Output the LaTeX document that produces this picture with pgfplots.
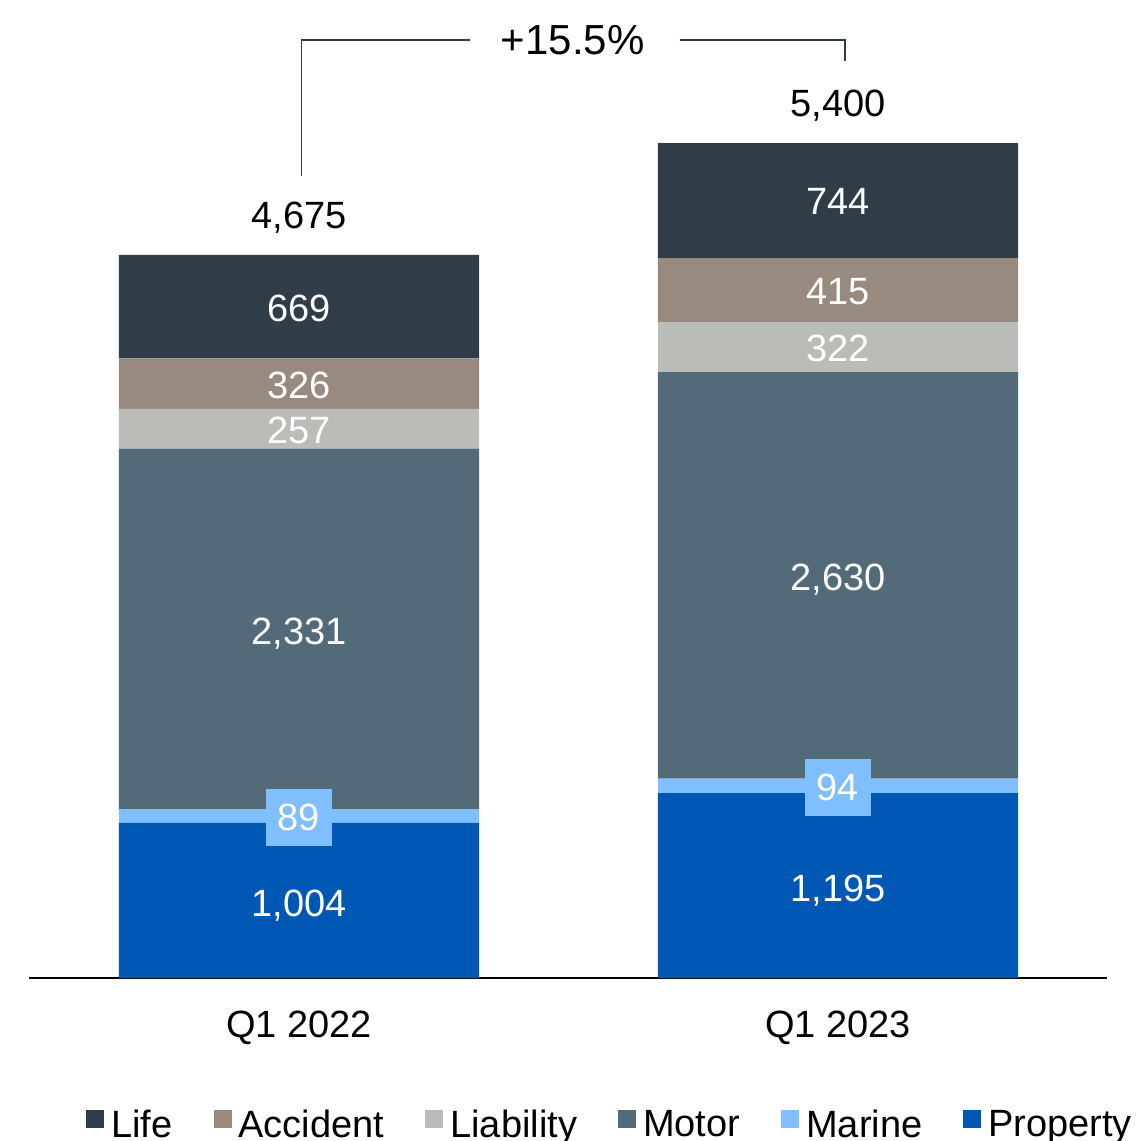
\documentclass[border=0pt]{standalone}
\usepackage{pgfplots}
\pgfplotsset{compat=1.18}
\usepackage{fontspec}
\setmainfont{Liberation Sans}
\definecolor{life}{HTML}{303D48}
\definecolor{accident}{HTML}{998A80}
\definecolor{liability}{HTML}{BBBCB8}
\definecolor{motor}{HTML}{536A78}
\definecolor{marine}{HTML}{80BFFF}
\definecolor{property}{HTML}{0058B4}
\newcommand\lf{\fontsize{19}{22}\selectfont}
\tikzset{seg/.style={text=white, font=\lf, anchor=center, text depth=0pt},
         mbox/.style={fill=marine, text=white, font=\lf, minimum width=33pt, minimum height=28.5pt, inner sep=0pt}}
\begin{document}
\begin{tikzpicture}
\begin{axis}[
    ybar stacked,
    scale only axis,
    width=539pt, height=417.5pt,
    xmin=-0.5, xmax=1.5, ymin=0, ymax=5400,
    bar width=0.668,
    clip=false,
    axis y line=none,
    axis x line*=bottom,
    x axis line style={-, line width=1pt},
    xtick={0,1},
    xticklabels={Q1 2022, Q1 2023},
    major tick length=0pt,
    xticklabel style={font=\lf, yshift=-13pt},
    reverse legend,
    legend columns=6,
    legend image code/.code={\fill[#1] (0pt,-1.5pt) rectangle (9pt,7.5pt);},
    legend style={draw=none, fill=none, font=\fontsize{19}{20}\selectfont,
        at={(axis cs:0.582,-950)}, anchor=center,
        nodes={inner xsep=3.5pt},
        /tikz/every odd column/.append style={column sep=0pt},
        /tikz/every even column/.append style={column sep=17pt},
        inner sep=0pt},
]
\addplot[fill=property, draw=none] coordinates {(0,1004) (1,1195)};
\addlegendentry{Property}
\addplot[fill=marine, draw=none] coordinates {(0,89) (1,94)};
\addlegendentry{Marine}
\addplot[fill=motor, draw=none] coordinates {(0,2331) (1,2630)};
\addlegendentry{Motor}
\addplot[fill=liability, draw=none] coordinates {(0,257) (1,322)};
\addlegendentry{Liability}
\addplot[fill=accident, draw=none] coordinates {(0,326) (1,415)};
\addlegendentry{Accident}
\addplot[fill=life, draw=none] coordinates {(0,669) (1,744)};
\addlegendentry{Life}

% label anchors (segment midpoints, totals, bracket)
\coordinate (a1) at (axis cs:0,485);
\coordinate (a2) at (axis cs:0,2245);
\coordinate (a3) at (axis cs:0,3545);
\coordinate (a4) at (axis cs:0,3835);
\coordinate (a5) at (axis cs:0,4330);
\coordinate (am) at (axis cs:0,1040);
\coordinate (b1) at (axis cs:1,582);
\coordinate (b2) at (axis cs:1,2590);
\coordinate (b3) at (axis cs:1,4070);
\coordinate (b4) at (axis cs:1,4440);
\coordinate (b5) at (axis cs:1,5020);
\coordinate (bm) at (axis cs:1,1232);
\coordinate (ta) at (axis cs:0,4934);
\coordinate (tb) at (axis cs:1,5659);
\coordinate (k1) at (axis cs:0.004,5187);
\coordinate (k2) at (axis cs:0.004,6066);
\coordinate (k3) at (axis cs:0.317,6066);
\coordinate (k4) at (axis cs:0.707,6066);
\coordinate (k5) at (axis cs:1.013,6066);
\coordinate (k6) at (axis cs:1.013,5930);
\coordinate (kt) at (axis cs:0.508,6066);

\coordinate (bbl) at (axis cs:-0.5547,-1054);
\coordinate (btr) at (axis cs:1.5566,6325);
\end{axis}

\node[seg] at (a1) {1,004};
\node[seg] at (a2) {2,331};
\node[seg] at (a3) {257};
\node[seg] at (a4) {326};
\node[seg] at (a5) {669};
\node[mbox] at (am) {89};
\node[seg] at (b1) {1,195};
\node[seg] at (b2) {2,630};
\node[seg] at (b3) {322};
\node[seg] at (b4) {415};
\node[seg] at (b5) {744};
\node[mbox] at (bm) {94};

\node[font=\lf, text depth=0pt] at (ta) {4,675};
\node[font=\lf, text depth=0pt] at (tb) {5,400};

\draw[life, line width=0.6pt] (k1) -- (k2) -- (k3);
\draw[life, line width=0.6pt] (k4) -- (k5) -- (k6);
\node[font=\fontsize{21}{24}\selectfont, text depth=0pt] at (kt) {+15.5\%};

\pgfresetboundingbox
\useasboundingbox (bbl) rectangle (btr);
\end{tikzpicture}
\end{document}
